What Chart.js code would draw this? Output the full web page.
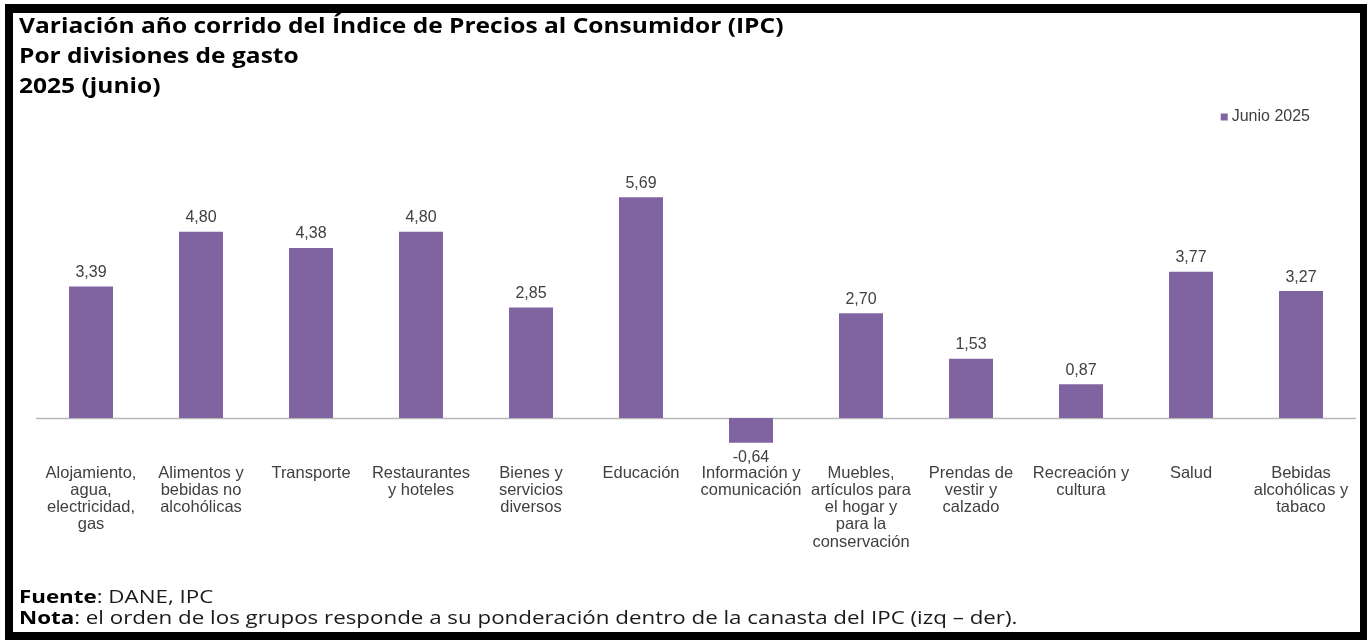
<!DOCTYPE html>
<html>
<head>
<meta charset="utf-8">
<script src="https://cdn.jsdelivr.net/npm/chart.js@4.4.1/dist/chart.umd.min.js"></script>
<style>
  html, body { margin: 0; padding: 0; background: #fff; }
  body { width: 1367px; height: 640px; position: relative; overflow: hidden; }
  #frame { position: absolute; left: 5px; top: 4px; width: 1347px; height: 619px;
           border-left: 8px solid #000; border-top: 9px solid #000; border-right: 7px solid #000; border-bottom: 8px solid #000; }
  #wrap { position: absolute; left: 0; top: 0; width: 1367px; height: 640px; }
  #title { position: absolute; left: 19px; top: 10px; font-family: "Open Sans", sans-serif; font-weight: 700;
           font-size: 21px; line-height: 30px; color: #000; white-space: nowrap;
           transform: scaleX(1.168); transform-origin: 0 0; }
  #note { position: absolute; left: 19px; top: 585px; font-family: "Open Sans", sans-serif; font-size: 18.5px;
          line-height: 21px; color: #1a1a1a; white-space: nowrap;
          transform: scaleX(1.207); transform-origin: 0 0; }
  #note b { color: #000; }
</style>
</head>
<body>
<div id="frame"></div>
<div id="wrap"><canvas id="c"></canvas></div>
<div id="title">Variación año corrido del Índice de Precios al Consumidor (IPC)<br>Por divisiones de gasto<br>2025 (junio)</div>
<div id="note"><b>Fuente</b>: DANE, IPC<br><b>Nota</b>: el orden de los grupos responde a su ponderación dentro de la canasta del IPC (izq – der).</div>
<script>
const categories = [
  ["Alojamiento,", "agua,", "electricidad,", "gas"],
  ["Alimentos y", "bebidas no", "alcohólicas"],
  ["Transporte"],
  ["Restaurantes", "y hoteles"],
  ["Bienes y", "servicios", "diversos"],
  ["Educación"],
  ["Información y", "comunicación"],
  ["Muebles,", "artículos para", "el hogar y", "para la", "conservación"],
  ["Prendas de", "vestir y", "calzado"],
  ["Recreación y", "cultura"],
  ["Salud"],
  ["Bebidas", "alcohólicas y", "tabaco"]
];
const seriesName = "Junio 2025";
const values = [3.39, 4.80, 4.38, 4.80, 2.85, 5.69, -0.64, 2.70, 1.53, 0.87, 3.77, 3.27];

const barColor = "#8064A2";
const textColor = "#404040";
const labelFont = "'Liberation Sans', Arial, sans-serif";

const valueLabels = {
  id: "valueLabels",
  afterDatasetsDraw(chart) {
    const ctx = chart.ctx;
    const meta = chart.getDatasetMeta(0);
    ctx.save();
    ctx.font = "16px " + labelFont;
    ctx.fillStyle = textColor;
    ctx.textAlign = "center";
    ctx.textBaseline = "middle";
    meta.data.forEach((bar, i) => {
      const v = chart.data.datasets[0].data[i];
      const txt = v.toFixed(2).replace(".", ",");
      const y = v >= 0 ? bar.y - 14 : bar.y + 15;
      ctx.fillText(txt, bar.x, y);
    });
    ctx.restore();
  }
};

const zeroLine = {
  id: "zeroLine",
  beforeDatasetsDraw(chart) {
    const ctx = chart.ctx;
    const y = Math.round(chart.scales.y.getPixelForValue(0)) + 0.5;
    const a = chart.chartArea;
    ctx.save();
    ctx.strokeStyle = "#b8b8b8";
    ctx.lineWidth = 1.5;
    ctx.beginPath();
    ctx.moveTo(a.left, y);
    ctx.lineTo(a.right, y);
    ctx.stroke();
    ctx.restore();
  }
};

const simpleLegend = {
  id: "simpleLegend",
  afterDraw(chart) {
    const ctx = chart.ctx;
    const ds = chart.data.datasets[0];
    const textRight = chart.chartArea.right - 46;
    const cy = 117;
    ctx.save();
    ctx.font = "16px " + labelFont;
    const w = ctx.measureText(ds.label).width;
    const tx = textRight - w;
    ctx.fillStyle = ds.backgroundColor;
    ctx.fillRect(tx - 11, cy - 3.5, 7, 7);
    ctx.fillStyle = textColor;
    ctx.textAlign = "left";
    ctx.textBaseline = "middle";
    ctx.fillText(ds.label, tx, cy);
    ctx.restore();
  }
};

new Chart(document.getElementById("c"), {
  type: "bar",
  data: {
    labels: categories,
    datasets: [{
      label: seriesName,
      data: values,
      backgroundColor: barColor,
      borderWidth: 0,
      barPercentage: 0.4,
      categoryPercentage: 1.0
    }]
  },
  options: {
    responsive: true,
    maintainAspectRatio: false,
    animation: false,
    layout: { padding: { left: 36, right: 11, top: 61, bottom: 0 } },
    plugins: {
      tooltip: { enabled: false },
      legend: { display: false }
    },
    scales: {
      x: {
        grid: { display: false, drawTicks: false },
        border: { display: false },
        ticks: {
          color: textColor, autoSkip: false, maxRotation: 0, minRotation: 0, padding: 8,
          font: { family: labelFont, size: 16.5, lineHeight: 1.04 }
        },
        afterFit(scale) { scale.height = 183.2; }
      },
      y: {
        display: false,
        min: -1,
        max: 9.2
      }
    }
  },
  plugins: [zeroLine, valueLabels, simpleLegend]
});
</script>
</body>
</html>
